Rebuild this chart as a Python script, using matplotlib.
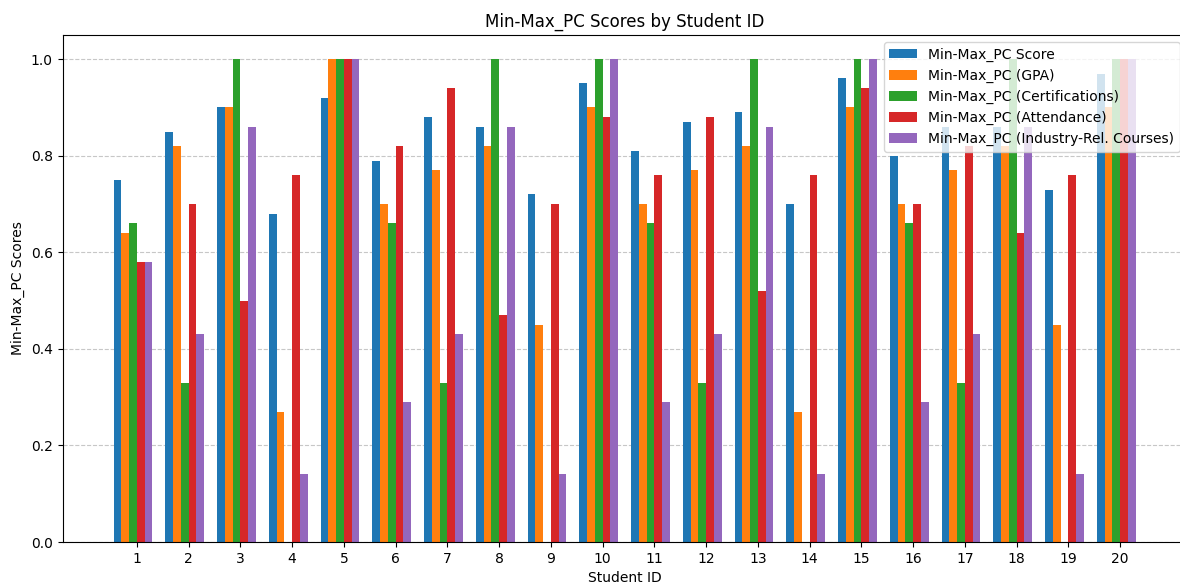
import numpy as np
import matplotlib
matplotlib.use("Agg")
from matplotlib import pyplot as plt


student_ids = list(range(1, 21))

score = [0.75, 0.85, 0.90, 0.68, 0.92, 0.79, 0.88, 0.86, 0.72, 0.95,
         0.81, 0.87, 0.89, 0.70, 0.96, 0.80, 0.86, 0.86, 0.73, 0.97]
gpa = [0.64, 0.82, 0.90, 0.27, 1.00, 0.70, 0.77, 0.82, 0.45, 0.90,
       0.70, 0.77, 0.82, 0.27, 0.90, 0.70, 0.77, 0.82, 0.45, 0.90]
certifications = [0.66, 0.33, 1.00, 0.00, 1.00, 0.66, 0.33, 1.00, 0.00, 1.00,
                  0.66, 0.33, 1.00, 0.00, 1.00, 0.66, 0.33, 1.00, 0.00, 1.00]
attendance = [0.58, 0.70, 0.50, 0.76, 1.00, 0.82, 0.94, 0.47, 0.70, 0.88,
              0.76, 0.88, 0.52, 0.76, 0.94, 0.70, 0.82, 0.64, 0.76, 1.00]
industry_courses = [0.58, 0.43, 0.86, 0.14, 1.00, 0.29, 0.43, 0.86, 0.14, 1.00,
                    0.29, 0.43, 0.86, 0.14, 1.00, 0.29, 0.43, 0.86, 0.14, 1.00]

series_labels = [
    "Min-Max_PC Score",
    "Min-Max_PC (GPA)",
    "Min-Max_PC (Certifications)",
    "Min-Max_PC (Attendance)",
    "Min-Max_PC (Industry-Rel. Courses)",
]


def main():
    series = [score, gpa, certifications, attendance, industry_courses]
    x = np.arange(len(student_ids))
    width = 0.15

    fig = plt.figure(figsize=(11.8, 5.85), dpi=100)
    ax = fig.add_axes([0.053, 0.0735, 0.9527, 0.8667])

    for i, (values, label) in enumerate(zip(series, series_labels)):
        ax.bar(x + (i - 2.5) * width, values, width, label=label)

    ax.set_xticks(x)
    ax.set_xticklabels([str(s) for s in student_ids])
    ax.set_xlabel("Student ID")
    ax.set_ylabel("Min-Max_PC Scores")
    ax.set_title("Min-Max_PC Scores by Student ID")
    ax.grid(axis="y", linestyle="--", alpha=0.7)
    ax.set_axisbelow(True)
    ax.legend(loc="upper right")

    fig.savefig("out.png", dpi=100)


if __name__ == "__main__":
    main()
